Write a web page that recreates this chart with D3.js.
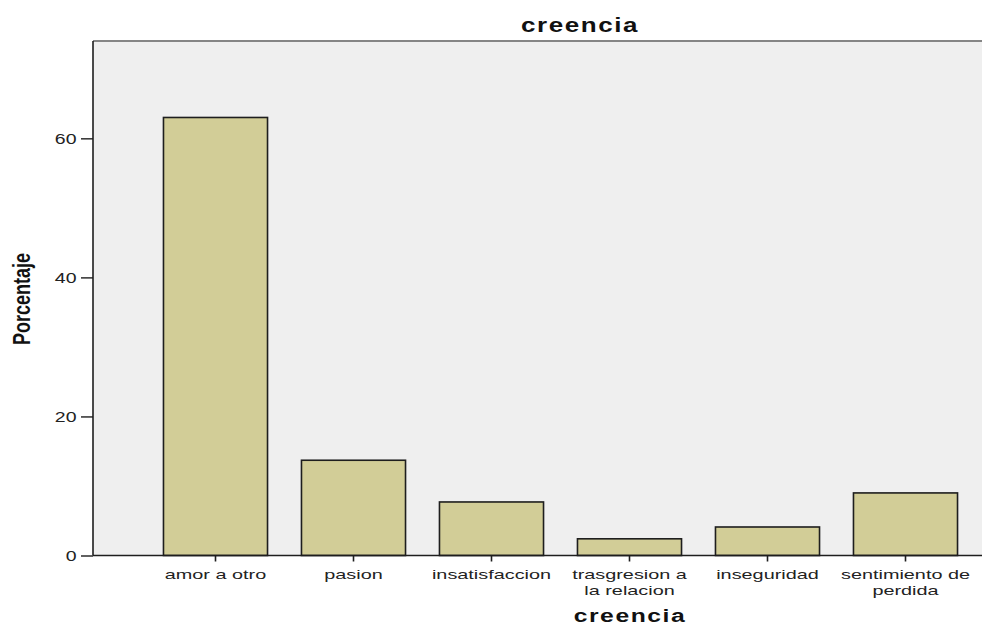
<!DOCTYPE html>
<html>
<head>
<meta charset="utf-8">
<script src="https://cdn.jsdelivr.net/npm/d3@7"></script>
<style>
  html, body { margin: 0; padding: 0; background: #ffffff; }
  svg { display: block; }
  text { font-family: Arial, "Liberation Sans", sans-serif; }
</style>
</head>
<body>
<svg id="chart" width="982" height="625"></svg>
<script>
// ---- data ----
const categories = ["amor a otro", "pasion", "insatisfaccion", "trasgresion a la relacion", "inseguridad", "sentimiento de perdida"];
const categoryLines = [["amor a otro"], ["pasion"], ["insatisfaccion"], ["trasgresion a", "la relacion"], ["inseguridad"], ["sentimiento de", "perdida"]];
const percentages = [63.0, 13.7, 7.7, 2.4, 4.1, 9.0];
const yTicks = [0, 20, 40, 60];
const chartTitle = "creencia";
const xTitle = "creencia";
const yTitle = "Porcentaje";

// ---- layout ----
const plot = { left: 93, top: 41, right: 982, bottom: 555.5 };
const stretch = 1.3;

const svg = d3.select("#chart");

const x = d3.scaleBand()
  .domain(categories)
  .range([146.5, 974.5])
  .paddingInner(0.246)
  .paddingOuter(0.123);

const y = d3.scaleLinear()
  .domain([0, 74])
  .range([plot.bottom, plot.top]);

// plot background
svg.append("rect")
  .attr("x", plot.left).attr("y", plot.top)
  .attr("width", plot.right - plot.left).attr("height", plot.bottom - plot.top)
  .attr("fill", "#efefef");

// top border
svg.append("line")
  .attr("x1", plot.left).attr("x2", plot.right)
  .attr("y1", plot.top).attr("y2", plot.top)
  .attr("stroke", "#858585").attr("stroke-width", 2);

// bars
svg.append("g").selectAll("rect")
  .data(categories)
  .join("rect")
  .attr("x", d => x(d))
  .attr("y", (d, i) => y(percentages[i]))
  .attr("width", x.bandwidth())
  .attr("height", (d, i) => y(0) - y(percentages[i]))
  .attr("fill", "#d2cd97")
  .attr("stroke", "#1e1e1e")
  .attr("stroke-width", 1.6);

// y axis
const yAxis = svg.append("g")
  .attr("transform", `translate(${plot.left},0)`)
  .call(d3.axisLeft(y).tickValues(yTicks).tickSize(12).tickPadding(3).tickFormat(d3.format("d")));
yAxis.select(".domain").attr("stroke", "#1e1e1e").attr("stroke-width", 1.6)
  .attr("d", `M0,${plot.top}V${plot.bottom}`);
yAxis.selectAll(".tick line").attr("stroke", "#1e1e1e").attr("stroke-width", 1.4);
yAxis.selectAll(".tick text")
  .attr("font-size", 15)
  .attr("fill", "#222")
  .attr("font-family", "Arial, 'Liberation Sans', sans-serif")
  .attr("x", -16.5 / stretch)
  .attr("dy", "0.36em")
  .attr("transform", `scale(${stretch},1)`);

// x axis
const xAxis = svg.append("g")
  .attr("transform", `translate(0,${plot.bottom})`)
  .call(d3.axisBottom(x).tickSize(6).tickFormat(""));
xAxis.select(".domain").attr("stroke", "#1e1e1e").attr("stroke-width", 1.6)
  .attr("d", `M${plot.left},0H${plot.right}`);
xAxis.selectAll(".tick line").attr("stroke", "#1e1e1e").attr("stroke-width", 1.6);
xAxis.selectAll(".tick text").remove();
xAxis.selectAll(".tick").each(function(d, i) {
  const g = d3.select(this);
  categoryLines[i].forEach((line, j) => {
    g.append("text")
      .attr("fill", "#222")
      .attr("font-size", 13.5)
      .attr("text-anchor", "middle")
      .attr("transform", `translate(0,${23.5 + j * 15.5}) scale(1.47,1)`)
      .text(line);
  });
});

// chart title
svg.append("text")
  .attr("transform", `translate(580,32) scale(${stretch},1)`)
  .attr("text-anchor", "middle")
  .attr("font-size", 20)
  .attr("font-weight", "bold")
  .attr("letter-spacing", 1.2)
  .attr("fill", "#111")
  .text(chartTitle);

// x title
svg.append("text")
  .attr("transform", `translate(630,622) scale(${stretch},1)`)
  .attr("text-anchor", "middle")
  .attr("font-size", 19)
  .attr("font-weight", "bold")
  .attr("letter-spacing", 1.2)
  .attr("fill", "#111")
  .text(xTitle);

// y title
svg.append("text")
  .attr("transform", `translate(30,299) scale(${stretch},1) rotate(-90)`)
  .attr("text-anchor", "middle")
  .attr("font-size", 18)
  .attr("font-weight", "bold")
  .attr("fill", "#111")
  .text(yTitle);
</script>
</body>
</html>
